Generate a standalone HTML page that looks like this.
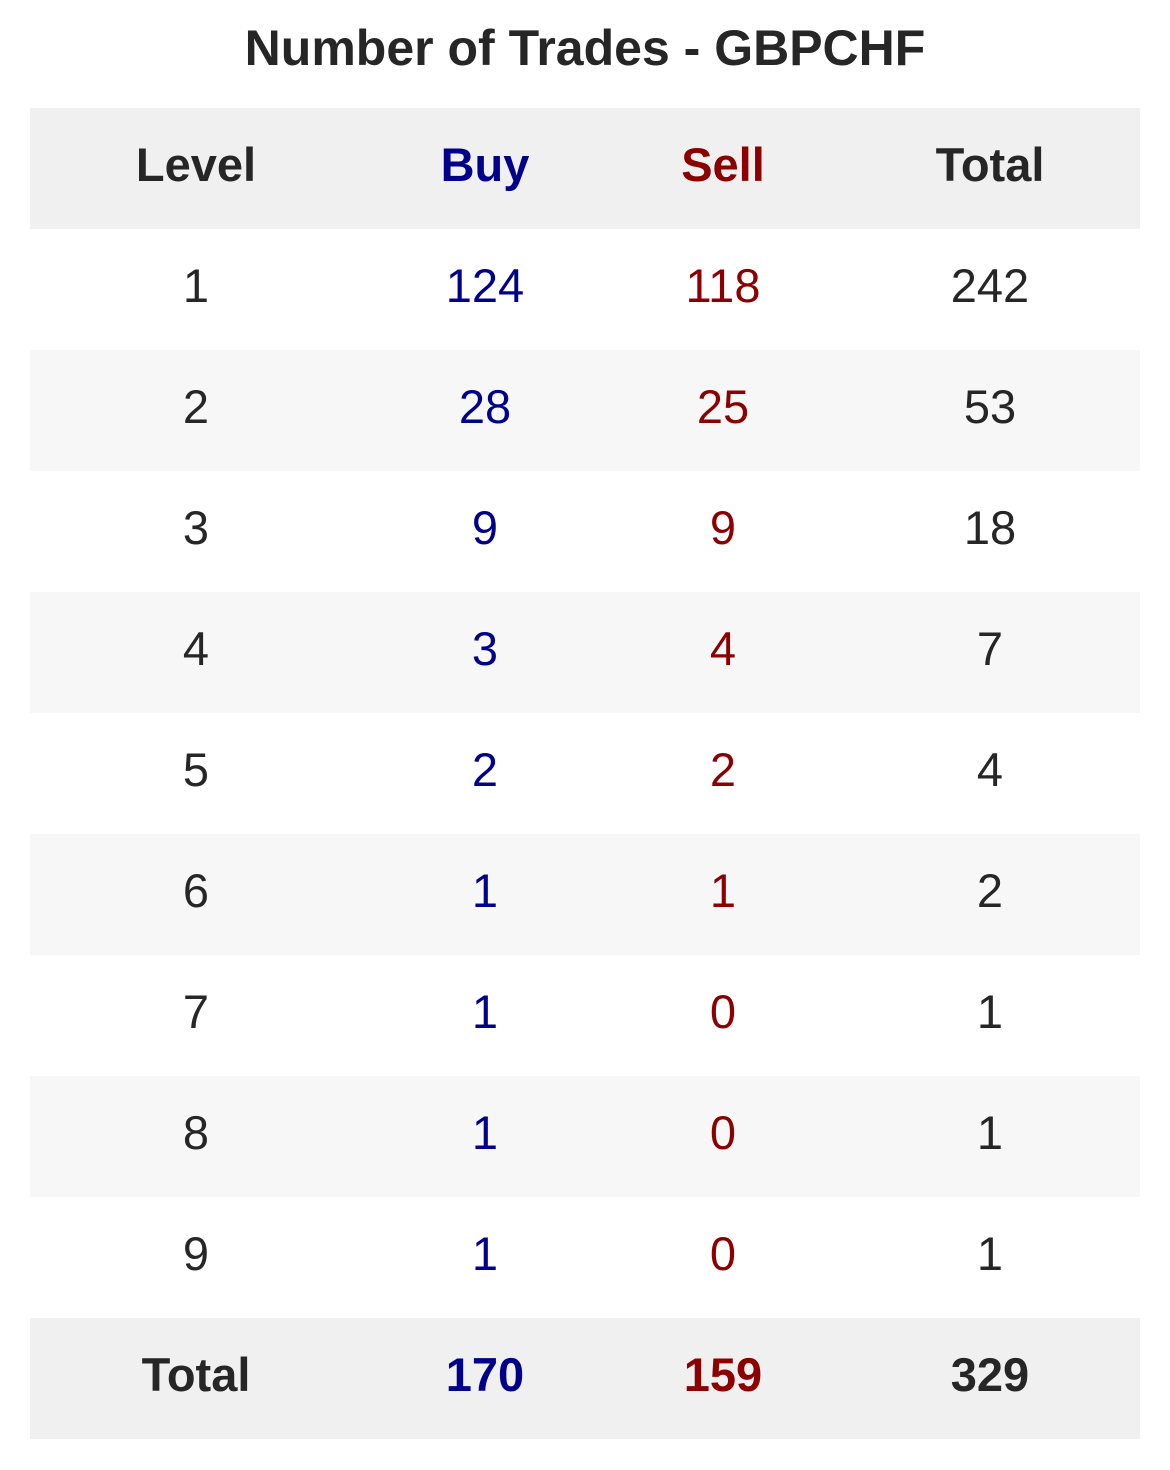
<!DOCTYPE html>
<html><head><meta charset="utf-8"><style>
body{margin:0;width:1170px;height:1470px;background:#fff;font-family:"Liberation Sans",Arial,sans-serif;color:#262626;position:relative;overflow:hidden}
.t{position:absolute;left:0;width:1170px;text-align:center;top:20px;font-size:50px;font-weight:bold;line-height:56px}
.row{position:absolute;left:30px;width:1110px;height:121px}
.c{position:absolute;top:-4px;height:121px;line-height:121px;font-size:47px;text-align:center;width:300px;margin-left:-150px}
.b{font-weight:bold}
.buy{color:#00008b}.sell{color:#8b0000}
</style></head><body>
<div class="t">Number of Trades - GBPCHF</div>
<div id="tbl"></div>
<script>
const levels=["1","2","3","4","5","6","7","8","9"];
const buyVals=[124,28,9,3,2,1,1,1,1];
const sellVals=[118,25,9,4,2,1,0,0,0];
const headers=["Level","Buy","Sell","Total"];
const colX=[166,455,693,960];
const rowH=121, top0=108;
const tbl=document.getElementById('tbl');
function mkRow(i,cells,bg,bold,name){
  const r=document.createElement('div');
  r.className='row';
  r.style.top=(top0+i*rowH)+'px';
  r.style.background=bg;
  
  
  const cls=['','buy','sell',''];
  cells.forEach((v,j)=>{
    const c=document.createElement('div');
    c.className='c '+cls[j]+(bold?' b':'');
    c.style.left=colX[j]+'px';
    c.textContent=v;
    
    
    r.appendChild(c);
  });
  tbl.appendChild(r);
}
mkRow(0,headers,'#f0f0f0',true,'header-row');
levels.forEach((l,i)=>{
  mkRow(i+1,[l,buyVals[i],sellVals[i],buyVals[i]+sellVals[i]],i%2?'#f7f7f7':'#ffffff',false,'level-row-'+l);
});
const sb=buyVals.reduce((a,b)=>a+b,0), ss=sellVals.reduce((a,b)=>a+b,0);
mkRow(levels.length+1,['Total',sb,ss,sb+ss],'#f0f0f0',true,'total-row');
</script>
</body></html>
